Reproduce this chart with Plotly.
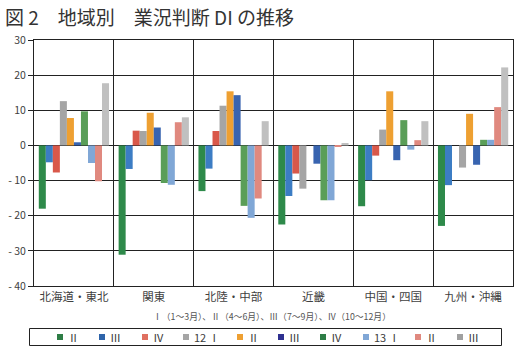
import plotly.graph_objects as go

regions = ["北海道・東北", "関東", "北陸・中部", "近畿", "中国・四国", "九州・沖縄"]
series_names = ["Ⅱ", "Ⅲ", "Ⅳ", "12 Ⅰ", "Ⅱ", "Ⅲ", "Ⅳ", "13 Ⅰ", "Ⅱ", "Ⅲ"]
series_colors = ["#2E8A4A", "#3C7DC4", "#D9584A", "#A5A5A5", "#EEA032",
                 "#3864B0", "#5A9E58", "#80A7D6", "#E0897F", "#C0C0C0"]
legend_colors = ["#2E7D46", "#2E64AA", "#E07060", "#A5A5A5", "#EEA032",
                 "#2E3090", "#2E7D46", "#80A7D6", "#E0897F", "#A0A0A0"]

# values per series, ordered by region
s11_2 = [-18.0, -31.1, -13.0, -22.5, -17.3, -22.9]
s11_3 = [-4.8, -6.7, -6.6, -14.4, -9.9, -11.3]
s11_4 = [-7.7, 4.2, 4.1, -8.0, -2.9, 0.0]
s12_1 = [12.6, 4.1, 11.3, -12.3, 4.5, -6.3]
s12_2 = [7.8, 9.3, 15.4, 0.0, 15.4, 9.0]
s12_3 = [0.9, 5.1, 14.3, -5.2, -4.2, -5.5]
s12_4 = [9.7, -10.7, -17.2, -15.6, 7.2, 1.6]
s13_1 = [-5.0, -11.2, -20.6, -15.6, -1.2, 1.6]
s13_2 = [-10.2, 6.6, -15.1, -0.4, 1.5, 10.9]
s13_3 = [17.7, 8.0, 6.9, 0.7, 6.9, 22.2]
all_series = [s11_2, s11_3, s11_4, s12_1, s12_2, s12_3, s12_4, s13_1, s13_2, s13_3]

y_ticks = [-40, -30, -20, -10, 0, 10, 20, 30]
y_ticktext = ["- 40", "- 30", "- 20", "- 10", "0", "10", "20", "30"]

# layout geometry (pixels)
W, H = 524, 353
ML, MR, MT, MB = 34, 11, 40, 67
PW, PH = W - ML - MR, H - MT - MB


def px_x(px):
    return (px - ML) / PW


def px_y(py):
    return (H - MB - py) / PH


fig = go.Figure()
for name, vals, col in zip(series_names, all_series, series_colors):
    fig.add_trace(go.Bar(x=regions, y=vals, name=name, showlegend=False,
                         marker=dict(color=col, line=dict(width=0))))

font_family = "Noto Sans CJK JP"

shapes = []
annotations = []

# custom legend box
shapes.append(dict(type="rect", xref="paper", yref="paper",
                   x0=px_x(29.5), x1=px_x(501.5), y0=px_y(345.5), y1=px_y(328.5),
                   line=dict(color="#222222", width=1), fillcolor="rgba(0,0,0,0)"))
legend_sq_x = [57, 99, 142, 183, 237, 278, 320, 363, 415, 457]
for sx, name, col in zip(legend_sq_x, series_names, legend_colors):
    shapes.append(dict(type="rect", xref="paper", yref="paper",
                       x0=px_x(sx), x1=px_x(sx + 6), y0=px_y(340), y1=px_y(334),
                       line=dict(width=0), fillcolor=col))
    annotations.append(dict(text=name, xref="paper", yref="paper",
                            x=px_x(sx + 9), y=px_y(337), xanchor="left", yanchor="middle",
                            showarrow=False,
                            font=dict(size=11, color="#404040", family=font_family)))

annotations.append(dict(text="図 2　地域別　業況判断 DI の推移", xref="paper", yref="paper",
                        x=px_x(3), y=px_y(17), xanchor="left", yanchor="middle",
                        showarrow=False,
                        font=dict(size=19, color="#333333", family=font_family)))
annotations.append(dict(text="Ⅰ（1～3月）、Ⅱ（4～6月）、Ⅲ（7～9月）、Ⅳ（10～12月）",
                        xref="paper", yref="paper", x=px_x(272), y=px_y(316),
                        xanchor="center", yanchor="middle", showarrow=False,
                        font=dict(size=8.8, color="#555555", family=font_family)))

fig.update_layout(
    width=W, height=H,
    margin=dict(l=ML, r=MR, t=MT, b=MB, autoexpand=False),
    paper_bgcolor="white", plot_bgcolor="white",
    barmode="group", bargap=0.12, bargroupgap=0,
    font=dict(family=font_family, color="#404040", size=11),
    showlegend=False,
    xaxis=dict(type="category", tickson="boundaries", showgrid=True, gridcolor="#222222",
               gridwidth=1, showline=True, linecolor="#222222", mirror=True,
               ticks="", automargin=False, tickfont=dict(size=11.5, color="#404040")),
    yaxis=dict(range=[-40, 30], tickvals=y_ticks, ticktext=y_ticktext, showgrid=True,
               gridcolor="#222222", gridwidth=1, zeroline=True, zerolinecolor="#222222",
               zerolinewidth=1, showline=True, linecolor="#222222", mirror=True,
               ticks="outside", ticklen=5, tickcolor="#222222", automargin=False,
               tickfont=dict(size=10.5, color="#404040")),
    shapes=shapes,
    annotations=annotations,
)

fig.write_html("out.html")
